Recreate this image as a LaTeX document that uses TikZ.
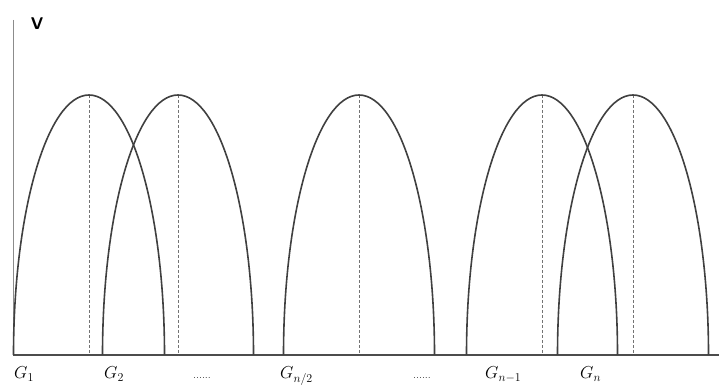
\documentclass[tikz,border=0pt]{standalone}
\begin{document}
\begin{tikzpicture}[x=1pt,y=1pt,
  arch/.style={line width=1.6pt,draw=black!75},
  peakline/.style={line width=1pt,draw=black!55,dash pattern=on 3pt off 2pt},
  axisline/.style={line width=1pt,draw=black!45},
  glabel/.style={anchor=base west,inner sep=0pt,font=\fontsize{17}{19}\selectfont},
  dots/.style={anchor=base,inner sep=0pt,font=\fontsize{11}{12}\selectfont,text=black!80}]
\useasboundingbox (0,0) rectangle (719,387);
% axes
\coordinate (O) at (13,32);
\coordinate (Top) at (13,367);
\coordinate (R) at (719,32);
\draw[axisline] (Top) -- (O);
\draw[line width=1.2pt,draw=black!70] (O) -- (R);
\node[inner sep=0pt,font=\sffamily\bfseries\fontsize{17}{18}\selectfont] (V) at (37,363) {V};
% arches (half ellipses)
\foreach \c [count=\i] in {89,178,359,542,633}{
  \coordinate (p\i) at (\c,292);
  \coordinate (b\i) at (\c,32);
  \draw[peakline] (p\i) -- (b\i);
  \draw[arch] (\c-75.5,32) arc[start angle=180,end angle=0,x radius=75.5,y radius=260];
}
% labels
\node[glabel] (g1) at (14,8) {$G_1$};
\node[glabel] (g2) at (104,8) {$G_2$};
\node[dots] (d1) at (202,8) {......};
\node[glabel] (g3) at (280,8) {$G_{n/2}$};
\node[dots] (d2) at (422,8) {......};
\node[glabel] (g4) at (485,8) {$G_{n-1}$};
\node[glabel] (g5) at (580,8) {$G_n$};
\end{tikzpicture}
\end{document}
